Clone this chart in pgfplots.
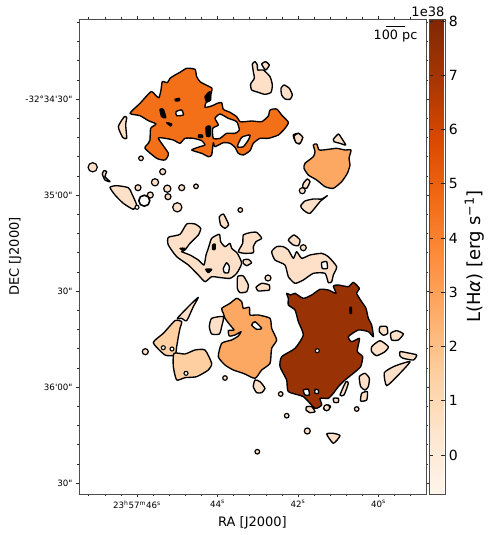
\documentclass[border=0pt]{standalone}
\usepackage{fontspec}
\usepackage{pgfplots}
\pgfplotsset{compat=1.18}
\setmainfont{DejaVu Sans}
\newfontfamily\dv{DejaVu Sans}
\definecolor{cl}{HTML}{FEE0C8}
\definecolor{cp}{HTML}{FDCFA1}
\definecolor{cm}{HTML}{FDA862}
\definecolor{co}{HTML}{F37019}
\definecolor{cd}{HTML}{993204}
\pgfplotsset{
 colormap={oranges}{rgb255=(255,245,235) rgb255=(254,230,206) rgb255=(253,208,162) rgb255=(253,174,107) rgb255=(253,141,60) rgb255=(241,105,19) rgb255=(217,72,1) rgb255=(166,54,3) rgb255=(127,39,4)},
 Za/.style={x filter/.expression={80+x/3},y filter/.expression={50+y/3}},
 Zb/.style={x filter/.expression={270+x/3},y filter/.expression={y/3}},
 Zc/.style={x filter/.expression={130+x/3},y filter/.expression={200+y/3}},
 Zd/.style={x filter/.expression={270+x/3},y filter/.expression={230+y/3}},
 Ze/.style={x filter/.expression={210+x/3},y filter/.expression={60+y/3}},
 Zf/.style={x filter/.expression={80+x/3},y filter/.expression={150+y/3}},
 poly/.style={draw=black,line width=1.35bp,line join=round,mark=none,smooth cycle,tension=0.35},
 dots/.style={only marks,mark=*,mark size=#1,mark options={draw=black,line width=1.2bp,fill=cl}},
}
\begin{document}
\begin{tikzpicture}
\path[use as bounding box] (0,0) rectangle (490bp,535bp);
\begin{axis}[
 at={(79bp,41bp)},anchor=south west,
 scale only axis,width=347bp,height=475bp,
 xmin=79,xmax=426,ymin=19,ymax=494,y dir=reverse,
 axis line style={draw=black!70,line width=0.9bp},
 tick style={draw=black!85,line width=0.6bp},
 tick align=outside,tick pos=both,
 major tick length=3bp,minor tick length=2bp,
 xticklabel pos=bottom,yticklabel pos=left,
 xtick={137,217.5,298,378.5},
 xticklabels={23\textsuperscript{h}57\textsuperscript{m}46\textsuperscript{s},44\textsuperscript{s},42\textsuperscript{s},40\textsuperscript{s}},
 minor xtick={88.7,104.8,120.9,153.1,169.2,185.3,201.4,233.6,249.7,265.8,281.9,314.1,330.2,346.3,362.4,394.6,410.7},
 ytick={99,195,291,387,483},
 yticklabels={-32°34'30",35'00",30",36'00",30"},
 minor ytick={22.2,41.4,60.6,79.8,118.2,137.4,156.6,175.8,214.2,233.4,252.6,271.8,310.2,329.4,348.6,367.8,406.2,425.4,444.6,463.8},
 ticklabel style={font=\dv\fontsize{8.7bp}{10bp}\selectfont},
 xlabel={RA [J2000]},ylabel={DEC [J2000]},
 label style={font=\dv\fontsize{13bp}{15bp}\selectfont},
 xlabel style={at={(axis description cs:0.5,0)},anchor=north,yshift=-19bp},
 ylabel style={at={(axis description cs:0,0.5)},anchor=south,xshift=0bp,yshift=54bp},
 colormap name=oranges,
 point meta min=-0.72,point meta max=8.04,
 colorbar,
 colorbar shift/.style={xshift=0bp},
 colorbar style={
  scale only axis,width=16bp,height=475bp,
  axis line style={draw=black!70,line width=0.9bp},
  ytick={0,1,2,3,4,5,6,7,8},
  yticklabels={0,1,2,3,4,5,6,7,8},
  minor ytick={},
  major tick length=4bp,
  tick style={draw=black!85,line width=0.7bp},
  yticklabel style={font=\dv\fontsize{14bp}{16bp}\selectfont},
  ylabel={L(H{\itshape α}) [erg s\textsuperscript{−1}]},
  ylabel style={font=\dv\fontsize{18bp}{20bp}\selectfont},
 },
]
% ---- orange complex
\addplot[Za,poly,fill=co] coordinates {(150,190)(180,160)(213,125)(228,137)(237,143)(243,120)(247,95)(262,98)(270,85)(285,75)(300,67)(320,55)(345,58)(350,80)(360,95)(378,105)(396,115)(392,135)(390,150)(378,158)(375,172)(395,168)(412,160)(425,158)(430,178)(450,187)(470,200)(480,215)(495,215)(515,213)(545,215)(565,198)(570,180)(590,177)(605,195)(625,217)(615,235)(595,255)(565,265)(540,265)(520,280)(510,302)(490,315)(475,310)(465,292)(450,280)(430,278)(405,290)(400,278)(395,315)(385,320)(365,310)(335,300)(360,290)(375,285)(365,272)(340,265)(315,265)(300,280)(280,270)(255,265)(235,265)(265,310)(255,330)(230,325)(195,295)(205,280)(210,270)(212,235)(228,222)(205,212)(180,197)};
\addplot[Za,poly,fill=white] coordinates {(405,205)(420,192)(445,205)(470,215)(478,240)(465,250)(440,250)(420,265)(400,265)(398,235)(415,225)};
\addplot[Za,poly,fill=white] coordinates {(472,290)(485,262)(510,255)(505,270)(490,290)};
\addplot[Za,poly,fill=white] coordinates {(288,185)(305,180)(310,195)(290,197)};
\addplot[Za,poly,fill=black] coordinates {(240,178)(250,178)(257,203)(245,200)};
\addplot[Za,poly,fill=black] coordinates {(285,148)(298,145)(298,152)(287,153)};
\addplot[Za,poly,fill=black] coordinates {(378,232)(390,228)(390,258)(380,258)};
\addplot[Za,poly,fill=black] coordinates {(375,140)(390,125)(392,150)(380,155)};
\addplot[Za,poly,fill=black] coordinates {(356,255)(366,255)(368,262)(356,262)};
\addplot[Za,poly,fill=black] coordinates {(260,218)(275,222)(272,228)};
\addplot[Za,poly,fill=cl] coordinates {(133,200)(140,203)(137,225)(140,265)(128,262)(115,230)};
% ---- top blobs
\addplot[Ze,poly,fill=cl] coordinates {(127,12)(135,5)(142,15)(143,30)(160,30)(180,50)(187,75)(183,97)(165,103)(145,97)(125,90)(122,72)(133,55)(130,35)};
\addplot[Ze,poly,fill=cl] coordinates {(155,12)(167,5)(178,15)(167,30)};
\addplot[Ze,poly,fill=cl] coordinates {(213,85)(222,75)(238,85)(247,105)(240,118)(225,117)(215,105)};
\addplot[Ze,poly,fill=cl] coordinates {(250,225)(265,220)(278,232)(268,252)(255,242)};
% ---- upper right
\addplot[Zb,poly,fill=cm] coordinates {(130,435)(140,432)(148,450)(175,448)(200,445)(225,450)(243,450)(237,475)(240,495)(232,520)(215,545)(190,565)(165,560)(140,540)(115,525)(102,505)(105,490)(130,470)(135,455)};
\addplot[Zb,poly,fill=cl] coordinates {(72,408)(85,400)(98,412)(90,430)(78,428)};
\addplot[Zb,poly,fill=cl] coordinates {(190,418)(205,402)(215,415)(227,435)(210,430)(192,425)};
\addplot[Zb,poly,fill=cl] coordinates {(100,550)(112,537)(120,545)(110,565)(98,562)};
\addplot[Zb,poly,fill=cl] coordinates {(92,618)(105,603)(130,597)(155,597)(172,587)(150,605)(120,640)(100,630)};
% ---- lower left group
\addplot[Zf,poly,fill=cl] coordinates {(90,112)(110,107)(145,113)(155,130)(170,165)(160,178)(130,160)(105,135)};
\addplot[Zf,poly,fill=cl] coordinates {(72,62)(80,65)(75,80)(90,95)(75,90)(67,72)};
% ---- central light complex
\addplot[Zc,poly,fill=cl] coordinates {(115,112)(150,103)(170,72)(195,72)(212,85)(205,105)(180,130)(165,150)(155,155)(180,165)(205,180)(222,195)(228,165)(235,145)(245,115)(268,103)(272,125)(285,140)(300,130)(305,145)(322,160)(335,190)(320,220)(300,235)(265,232)(245,230)(225,245)(205,225)(175,195)(140,170)(115,135)};
\addplot[Zc,poly,fill=white] coordinates {(280,205)(290,188)(298,200)(295,218)(283,218)};
\addplot[Zc,poly,fill=black] coordinates {(227,208)(245,208)(235,218)};
\addplot[Zc,poly,fill=black] coordinates {(150,145)(165,145)(160,152)};
\addplot[Zc,poly,fill=black] coordinates {(248,135)(255,132)(255,148)(248,148)};
\addplot[Zc,poly,fill=cl] coordinates {(268,50)(280,42)(290,60)(296,75)(285,85)(272,75)};
\addplot[Zc,poly,fill=cl] coordinates {(340,105)(360,98)(380,97)(395,115)(378,125)(370,140)(370,158)(345,160)(325,155)(338,130)};
\addplot[Zc,poly,fill=cl] coordinates {(340,180)(355,178)(365,188)(350,197)(340,190)};
\addplot[Zc,poly,fill=cl] coordinates {(323,230)(340,228)(355,255)(350,275)(330,278)(322,265)};
\addplot[Zc,poly,fill=cl] coordinates {(378,262)(395,250)(418,255)(418,270)(400,272)(385,273)};
% ---- mid orange lower
\addplot[Zc,poly,fill=cm] coordinates {(275,325)(300,310)(320,295)(335,305)(340,325)(358,322)(360,345)(385,345)(420,355)(425,385)(440,420)(425,445)(420,490)(395,510)(375,535)(340,520)(310,510)(285,495)(265,470)(275,430)(305,420)(325,408)(333,395)(315,405)(298,408)(295,392)(312,390)(300,375)(285,355)(280,340)};
\addplot[Zc,poly,fill=white] coordinates {(365,375)(375,365)(395,385)(380,388)};
\addplot[Zc,poly,fill=cl] coordinates {(245,355)(280,350)(275,380)(268,402)(245,402)(238,380)};
\addplot[Zc,poly,fill=cl] coordinates {(375,540)(390,545)(405,565)(395,578)(380,578)(370,560)};
% ---- peach lower left
\addplot[Zc,poly,fill=cp] coordinates {(70,428)(100,400)(135,362)(155,365)(150,385)(145,410)(140,440)(135,465)(105,465)};
\addplot[Zc,poly,fill=cp] coordinates {(132,460)(165,462)(195,450)(225,450)(245,490)(235,510)(200,530)(165,533)(140,540)(130,500)};
\addplot[Zc,poly,fill=cl] coordinates {(142,355)(180,315)(205,292)(190,320)(170,362)(155,355)};
% ---- dark region
\addplot[Zd,poly,fill=cd] coordinates {(50,190)(62,195)(75,190)(100,205)(125,195)(150,178)(175,180)(198,190)(190,168)(205,165)(235,170)(250,157)(268,175)(260,190)(275,215)(288,235)(295,265)(305,285)(310,320)(295,305)(265,300)(235,320)(245,335)(268,325)(265,345)(262,365)(278,380)(272,410)(250,430)(225,450)(205,470)(190,490)(175,505)(150,505)(155,525)(135,535)(100,500)(55,485)(50,450)(30,410)(35,380)(75,355)(100,315)(85,275)(75,240)(55,225)(55,205)};
\addplot[Zd,poly,fill=white] coordinates {(100,480)(115,478)(118,495)(105,495)};
\addplot[Zd,poly,fill=white] coordinates {(135,478)(145,480)(145,490)(135,490)};
\addplot[Zd,poly,fill=black] coordinates {(240,232)(244,232)(244,250)(240,250)};
\addplot[Zd,poly,fill=cl] coordinates {(210,495)(228,455)(235,460)(222,495)};
\addplot[Zd,poly,fill=cl] coordinates {(110,530)(125,530)(135,545)(120,548)(108,540)};
\addplot[Zd,poly,fill=cl] coordinates {(160,535)(175,525)(182,530)(170,542)};
\addplot[Zd,poly,fill=cl] coordinates {(190,505)(205,505)(205,517)(192,517)};
% ---- light upper complex
\addplot[Zd,poly,fill=cl] coordinates {(5,65)(20,50)(40,50)(55,60)(70,85)(80,65)(95,85)(120,75)(155,70)(175,80)(200,110)(190,135)(185,155)(175,158)(165,130)(130,130)(100,150)(75,160)(55,140)(45,105)(15,90)};
\addplot[Zd,poly,fill=white] coordinates {(155,98)(170,95)(172,115)(157,115)};
\addplot[Zd,poly,fill=cl] coordinates {(55,30)(72,15)(90,30)(85,47)(70,45)};
\addplot[Zd,poly,fill=cl] coordinates {(330,290)(350,290)(353,310)(340,316)(328,305)};
\addplot[Zd,poly,fill=cl] coordinates {(362,310)(380,302)(400,312)(385,330)(365,330)};
\addplot[Zd,poly,fill=cl] coordinates {(305,350)(330,332)(355,350)(345,365)(320,377)(305,365)};
\addplot[Zd,poly,fill=cl] coordinates {(390,365)(410,368)(440,375)(430,390)(400,385)(390,378)};
\addplot[Zd,poly,fill=cl] coordinates {(343,428)(375,408)(420,395)(385,435)(350,467)};
\addplot[Zd,poly,fill=cl] coordinates {(268,440)(285,430)(298,445)(295,470)(285,480)(272,470)};
\addplot[Zd,poly,fill=cl] coordinates {(275,490)(292,485)(290,510)(272,513)};
\addplot[Zd,poly,fill=cl] coordinates {(170,612)(190,610)(210,617)(190,640)};
% ---- small clouds
\addplot[dots=4.6bp] coordinates {(92.7,167.3)(177.3,207.3)};
\addplot[dots=3.6bp] coordinates {(155,182.3)(167.3,188.7)};
\addplot[dots=3bp] coordinates {(162.7,171.7)(181.7,187.7)(168,196.7)(150.3,195)(138,187.7)(302.3,190.7)(268,278)(145.3,351.7)(326.7,407.7)(307.3,431)(303.3,247.7)};
\addplot[dots=2.3bp] coordinates {(141,158.3)(196,186.3)(240.3,210)(225,378)(280.7,394)(286.7,415.7)(356.7,409)(257.3,451.7)};
\addplot[only marks,mark=*,mark size=5.5bp,mark options={draw=black,line width=1.6bp,fill=white}] coordinates {(144.3,200.7)};
\addplot[only marks,mark=*,mark size=2bp,mark options={draw=black,line width=1.1bp,fill=white}] coordinates {(137,207.3)(163.3,347.7)(172,349)(186,373.3)(317.3,350.7)};
% ---- scale bar
\addplot[black,line width=0.8bp,mark=none] coordinates {(385.7,26)(405,26)};
\end{axis}
\node[font=\dv\fontsize{12.8bp}{14bp}\selectfont] at (395.5bp,498.5bp) {100 pc};
\node[font=\dv\fontsize{13bp}{15bp}\selectfont,anchor=east,inner sep=0pt] at (444.5bp,523.5bp) {1e38};
\end{tikzpicture}
\end{document}
